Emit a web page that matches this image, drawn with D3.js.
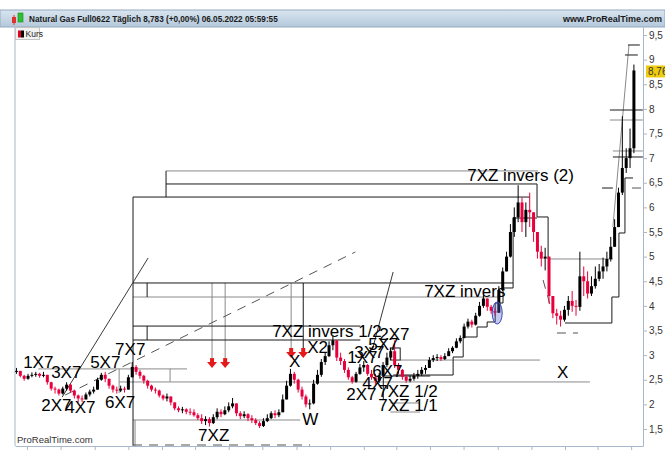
<!doctype html>
<html>
<head>
<meta charset="utf-8">
<script src="https://d3js.org/d3.v7.min.js"></script>
<style>
  body { margin: 0; background: #fff; }
  svg { display: block; font-family: "Liberation Sans", Arial, sans-serif; }
  .axis path, .axis line { stroke: #a7b8ca; }
  .axis text { fill: #333; font-size: 10px; font-family: "Liberation Sans", Arial, sans-serif; }
  .lbl { font-size: 17px; fill: #000; }
</style>
</head>
<body>
<div id="chart"></div>
<script>
// weekly candles, first week ends 12.04.2019
const firstWeek = new Date(2019, 3, 12);
const closes = [
  2.68,2.58,2.52,2.58,2.60,2.62,2.58,2.60,2.45,2.32,
  2.30,2.22,2.32,2.40,2.28,2.18,2.12,2.10,2.20,2.26,
  2.30,2.50,2.60,2.52,2.38,2.30,2.28,2.32,2.30,2.55,
  2.76,2.66,2.58,2.48,2.38,2.30,2.28,2.18,2.12,2.16,
  2.04,1.92,1.88,1.90,1.85,1.84,1.78,1.72,1.66,1.70,
  1.62,1.74,1.85,1.80,1.88,1.96,2.02,1.82,1.76,1.80,
  1.72,1.68,1.62,1.56,1.66,1.72,1.82,1.78,1.84,2.10,
  2.38,2.62,2.50,2.30,2.16,2.00,2.02,2.42,2.60,2.86,
  2.98,3.20,3.30,2.95,2.88,2.70,2.55,2.46,2.62,2.75,
  2.80,2.62,2.55,2.48,2.58,2.80,2.95,3.08,2.80,2.70,
  2.56,2.48,2.52,2.58,2.62,2.70,2.74,2.90,2.94,2.96,
  2.92,2.98,3.08,3.15,3.28,3.35,3.58,3.68,3.62,3.80,
  4.00,4.15,3.98,3.90,3.86,4.32,4.70,5.00,5.50,5.80,
  6.10,5.70,5.95,5.90,5.50,5.10,4.96,5.00,4.20,3.85,
  3.80,3.72,3.92,4.10,4.00,3.98,4.60,4.50,4.25,4.40,
  4.55,4.70,4.80,4.95,5.20,5.60,6.30,6.80,7.00,7.20,
  8.78
];
const highs = [
  2.74,2.68,2.60,2.62,2.65,2.66,2.64,2.66,2.60,2.46,
  2.36,2.32,2.36,2.45,2.42,2.30,2.20,2.18,2.24,2.30,
  2.36,2.54,2.64,2.66,2.52,2.40,2.36,2.38,2.36,2.60,
  2.86,2.80,2.70,2.60,2.50,2.40,2.34,2.30,2.20,2.22,
  2.16,2.02,1.96,1.95,1.92,1.92,1.90,1.82,1.80,1.76,
  1.74,1.80,1.92,1.90,1.96,2.04,2.13,2.00,1.86,1.86,
  1.82,1.78,1.72,1.66,1.72,1.80,1.86,1.88,1.90,2.20,
  2.48,2.72,2.66,2.52,2.36,2.20,2.10,2.50,2.70,2.92,
  3.06,3.28,3.40,3.30,3.05,2.92,2.75,2.58,2.66,2.82,
  2.88,2.82,2.70,2.62,2.64,2.86,3.05,3.15,3.30,2.84,
  2.72,2.60,2.58,2.64,2.70,2.76,2.80,2.96,3.00,3.02,
  3.00,3.04,3.14,3.18,3.34,3.40,3.64,3.74,3.72,3.86,
  4.08,4.22,4.12,4.02,3.96,4.40,4.78,5.10,5.66,6.00,
  6.45,6.20,6.10,6.30,5.80,5.50,5.22,5.18,4.90,4.10,
  3.94,3.90,4.00,4.20,4.30,4.12,5.10,4.80,4.70,4.60,
  4.80,4.85,4.98,5.10,5.40,5.76,6.40,7.85,7.20,7.60,
  8.90
];
const lows = [
  2.62,2.55,2.48,2.50,2.55,2.56,2.54,2.55,2.40,2.28,
  2.22,2.18,2.20,2.28,2.24,2.12,2.04,2.05,2.10,2.16,
  2.22,2.30,2.48,2.45,2.32,2.24,2.22,2.25,2.24,2.30,
  2.58,2.60,2.52,2.42,2.32,2.26,2.22,2.14,2.08,2.06,
  1.98,1.88,1.84,1.82,1.80,1.78,1.75,1.68,1.60,1.58,
  1.55,1.60,1.70,1.74,1.78,1.84,1.92,1.76,1.70,1.72,
  1.66,1.62,1.58,1.52,1.54,1.64,1.70,1.72,1.74,1.84,
  2.10,2.36,2.42,2.24,2.10,1.94,1.90,2.00,2.40,2.56,
  2.80,2.96,3.10,2.88,2.80,2.64,2.50,2.42,2.44,2.60,
  2.66,2.58,2.50,2.40,2.44,2.56,2.76,2.90,2.74,2.62,
  2.50,2.44,2.45,2.48,2.52,2.58,2.62,2.74,2.86,2.88,
  2.88,2.90,2.98,3.04,3.14,3.24,3.34,3.54,3.56,3.60,
  3.78,3.96,3.90,3.84,3.80,3.86,4.30,4.70,4.98,5.40,
  5.70,5.50,5.40,5.60,5.30,4.96,4.80,4.72,4.05,3.75,
  3.62,3.58,3.68,3.80,3.88,3.80,3.90,4.20,4.15,4.20,
  4.35,4.50,4.55,4.70,4.90,5.20,5.60,6.25,6.70,6.80,
  7.10
];

const priceTicks = [1.5,2,2.5,3,3.5,4,4.5,5,5.5,6,6.5,7,7.5,8,8.5,9,9.5];
const lastPrice = 8.76;
const monthNames = ["Jan","Feb","Mär","Apr","Mai","Jun","Jul","Aug","Sep","Okt","Nov","Dez"];

// drawn objects, in [year, price] units
const blackLines = [
  [2020.020, 6.475, 2021.861, 6.475],
  [2019.856, 6.21, 2021.826, 6.21],
  [2020.020, 6.74, 2020.020, 6.21],
  [2019.856, 6.21, 2019.856, 1.16],
  [2019.856, 4.465, 2021.742, 4.465],
  [2019.926, 4.465, 2019.926, 4.18],
  [2019.856, 3.59, 2020.983, 3.59],
  [2019.856, 3.307, 2020.983, 3.307],
  [2019.926, 3.59, 2019.926, 3.307],
  [2020.700, 4.465, 2020.700, 3.145],
  [2021.097, 2.576, 2021.330, 2.576],
  [2021.097, 2.576, 2021.097, 2.089],
  [2022.313, 9.297, 2022.372, 9.297],
  [2022.298, 9.094, 2022.362, 9.094],
  [2022.223, 7.977, 2022.387, 7.977],
  [2022.238, 7.023, 2022.387, 7.023],
  [2022.184, 6.393, 2022.238, 6.393]
];
const grayLines = [
  [2020.020, 6.74, 2021.866, 6.74],
  [2019.856, 4.18, 2021.677, 4.18],
  [2020.248, 4.465, 2020.248, 2.94],
  [2020.313, 4.465, 2020.313, 2.94],
  [2020.640, 4.465, 2020.640, 3.145],
  [2019.385, 2.72, 2020.124, 2.72],
  [2019.787, 2.455, 2022.124, 2.455],
  [2019.787, 2.72, 2019.787, 2.23],
  [2020.040, 2.72, 2020.040, 2.455],
  [2019.856, 1.683, 2020.685, 1.683],
  [2019.866, 1.683, 2019.866, 1.16],
  [2021.181, 2.90, 2021.876, 2.90],
  [2021.916, 4.952, 2022.238, 4.952],
  [2022.223, 7.774, 2022.387, 7.774],
  [2022.238, 7.145, 2022.387, 7.145],
  [2021.132, 2.028, 2021.280, 2.028],
  [2021.132, 1.845, 2021.280, 1.845],
  [2022.238, 5.602, 2022.318, 9.297]
];
const trendLines = [
  [2019.504, 2.150, 2019.931, 4.972],
  [2021.042, 3.104, 2021.146, 4.688]
];
const dashedLines = [
  [2019.519, 2.190, 2020.958, 5.094],
  [2019.856, 1.175, 2020.734, 1.175],
  [2021.891, 4.525, 2021.926, 4.018],
  [2021.960, 3.449, 2022.065, 3.449],
  [2022.333, 6.393, 2022.382, 6.393]
];
const stairs = [
  [[2021.146,2.596],[2021.444,2.596],[2021.444,2.962],[2021.494,2.962],[2021.494,3.368],[2021.563,3.368],
   [2021.563,3.571],[2021.613,3.571],[2021.613,3.673],[2021.653,3.673],[2021.653,4.058],[2021.692,4.058],
   [2021.692,4.363],[2021.742,4.363],[2021.742,5.784],[2021.861,5.784]],
  [[2021.861,6.475],[2021.861,5.805],[2021.916,5.805],[2021.916,4.952]],
  [[2022.000,3.652],[2022.233,3.652],[2022.233,4.180],[2022.268,4.180],[2022.268,5.480],[2022.298,5.480],
   [2022.298,6.597],[2022.338,6.597]]
];
const boxes = [[2021.132, 3.145, 2021.181, 2.90]];
const arrows = [[2020.248, 2.94], [2020.313, 2.94], [2020.640, 3.145], [2020.700, 3.145]];
const marker = [2021.663, 3.855];
const labels = [
  ["1X7", 2019.310, 2.739], ["3X7", 2019.449, 2.536], ["2X7", 2019.400, 1.865],
  ["4X7", 2019.519, 1.825], ["5X7", 2019.643, 2.739], ["6X7", 2019.717, 1.926],
  ["7X7", 2019.767, 3.003], ["7XZ", 2020.179, 1.256], ["W", 2020.695, 1.581],
  ["X", 2020.630, 2.759], ["X2", 2020.720, 3.043], ["7XZ invers 1/2", 2020.546, 3.368],
  ["2X7", 2021.077, 3.307], ["5X7", 2021.022, 3.104], ["3X7", 2020.953, 2.942],
  ["1X7", 2020.918, 2.840], ["6X7", 2021.042, 2.556], ["4X7", 2020.993, 2.312],
  ["2X7", 2020.913, 2.089], ["7XZ 1/2", 2021.072, 2.150], ["7XZ 1/1", 2021.072, 1.865],
  ["X", 2021.960, 2.536], ["7XZ invers", 2021.300, 4.180], ["7XZ invers (2)", 2021.514, 6.536]
];

const width = 665, height = 453;
const plot = {left: 15, right: 643, top: 27, bottom: 446};

const svg = d3.select("#chart").append("svg")
    .attr("width", width).attr("height", height);

// time and price scales
const x = d3.scaleTime()
    .domain([new Date(2020, 0, 1), new Date(2022, 0, 1)])
    .range([162, 565]);
const y = d3.scaleLinear().domain([1.5, 9.5]).range([429, 35]);

function fromYear(v) {
    const a = Math.floor(v);
    const s = new Date(a, 0, 1), e = new Date(a + 1, 0, 1);
    return new Date(+s + (v - a) * (e - s));
}
const X = v => x(fromYear(v));

// header
const defs = svg.append("defs");
const grad = defs.append("linearGradient").attr("id", "hdr").attr("x1", 0).attr("x2", 0).attr("y1", 0).attr("y2", 1);
grad.append("stop").attr("offset", "0%").attr("stop-color", "#d9e5f0");
grad.append("stop").attr("offset", "100%").attr("stop-color", "#b3c8db");
defs.append("clipPath").attr("id", "plotclip").append("rect")
    .attr("x", plot.left).attr("y", plot.top)
    .attr("width", plot.right - plot.left).attr("height", plot.bottom - plot.top);

svg.append("rect").attr("x", 0).attr("y", 10).attr("width", width).attr("height", 17)
    .attr("fill", "url(#hdr)").attr("stroke", "#94aabf").attr("stroke-width", 1);
svg.append("rect").attr("x", 12).attr("y", 17).attr("width", 4).attr("height", 6).attr("fill", "#e03030");
svg.append("line").attr("x1", 14).attr("x2", 14).attr("y1", 15).attr("y2", 25).attr("stroke", "#e03030");
svg.append("rect").attr("x", 18).attr("y", 13).attr("width", 5).attr("height", 9).attr("fill", "#30c030").attr("stroke", "#1a8a1a").attr("stroke-width", 0.6);
svg.append("text").attr("x", 29).attr("y", 22)
    .attr("font-size", 8.2).attr("font-weight", "bold").attr("fill", "#1a1a1a")
    .text("Natural Gas Full0622 Täglich 8,783 (+0,00%) 06.05.2022 05:59:55");
svg.append("text").attr("x", 662).attr("y", 22).attr("text-anchor", "end")
    .attr("font-size", 9).attr("font-weight", "bold").attr("fill", "#1a1a1a")
    .text("www.ProRealTime.com");

// frame
svg.append("line").attr("x1", plot.left).attr("x2", plot.left)
    .attr("y1", plot.top).attr("y2", plot.bottom).attr("stroke", "#a7b8ca");

// Kurs legend
svg.append("rect").attr("x", 15.5).attr("y", 27.5).attr("width", 24).attr("height", 12)
    .attr("fill", "#f2f2f2").attr("stroke", "#c4c4c4");
svg.append("rect").attr("x", 18).attr("y", 30.5).attr("width", 3).attr("height", 7).attr("fill", "#e00020");
svg.append("rect").attr("x", 21).attr("y", 30.5).attr("width", 3).attr("height", 7).attr("fill", "#000");
svg.append("text").attr("x", 25.5).attr("y", 37).attr("font-size", 8.5).attr("fill", "#222").text("Kurs");

// axes
const xa = x.copy().domain([x.invert(plot.left), x.invert(plot.right)]).range([plot.left, plot.right]);
svg.append("g").attr("class", "axis")
    .attr("transform", "translate(0," + plot.bottom + ")")
    .call(d3.axisBottom(xa).ticks(d3.timeMonth.every(2)).tickSize(4).tickSizeOuter(0)
        .tickFormat(d => d.getMonth() === 0 ? d.getFullYear() : monthNames[d.getMonth()]))
    .selectAll("text").attr("dy", "1.05em");

const ya = y.copy().domain([y.invert(plot.bottom), y.invert(plot.top)]).range([plot.bottom, plot.top]);
svg.append("g").attr("class", "axis")
    .attr("transform", "translate(" + plot.right + ",0)")
    .call(d3.axisRight(ya).tickValues(priceTicks).tickSize(4).tickSizeOuter(0).tickPadding(2)
        .tickFormat(d => String(d).replace(".", ",")));

svg.append("rect").attr("x", 646).attr("y", y(lastPrice) - 6).attr("width", 19).attr("height", 12)
    .attr("fill", "#f0cc10");
svg.append("text").attr("x", 648).attr("y", y(lastPrice) + 3.5).attr("font-size", 10).attr("fill", "#333")
    .text(String(lastPrice).replace(".", ","));

const g = svg.append("g").attr("clip-path", "url(#plotclip)");

// annotations under the price
function seg(list, color, width, dash) {
    g.selectAll(null).data(list).enter().append("line")
        .attr("x1", d => X(d[0])).attr("y1", d => y(d[1]))
        .attr("x2", d => X(d[2])).attr("y2", d => y(d[3]))
        .attr("stroke", color).attr("stroke-width", width)
        .attr("stroke-dasharray", dash || null);
}
seg(grayLines, "#8a8a8a", 1);
seg(blackLines, "#1a1a1a", 1);
seg(trendLines, "#3a3a3a", 1);
seg(dashedLines, "#555", 1, "9,7");

const stairLine = d3.line().x(d => X(d[0])).y(d => y(d[1]));
g.selectAll(null).data(stairs).enter().append("path")
    .attr("d", stairLine).attr("fill", "none").attr("stroke", "#1a1a1a");

g.selectAll(null).data(boxes).enter().append("rect")
    .attr("x", d => X(d[0])).attr("y", d => y(d[1]))
    .attr("width", d => X(d[2]) - X(d[0])).attr("height", d => y(d[3]) - y(d[1]))
    .attr("fill", "none").attr("stroke", "#1a1a1a");

// candles
const candles = closes.map((c, i) => {
    const o = i ? closes[i - 1] : c;
    return {
        date: d3.timeDay.offset(firstWeek, 7 * i),
        open: o, close: c,
        high: Math.max(highs[i], o, c), low: Math.min(lows[i], o, c)
    };
});
const col = d => d.close >= d.open ? "#000" : "#e8003c";
g.selectAll(".wick").data(candles).enter().append("line")
    .attr("class", "wick")
    .attr("x1", d => x(d.date)).attr("x2", d => x(d.date))
    .attr("y1", d => y(d.high)).attr("y2", d => y(d.low))
    .attr("stroke", col).attr("stroke-width", 1);
g.selectAll(".body").data(candles).enter().append("rect")
    .attr("class", "body")
    .attr("x", d => x(d.date) - 1.5).attr("width", 3)
    .attr("y", d => y(Math.max(d.open, d.close)))
    .attr("height", d => Math.max(1, Math.abs(y(d.open) - y(d.close))))
    .attr("fill", col);

// marker ellipse
g.append("ellipse")
    .attr("cx", X(marker[0])).attr("cy", y(marker[1]))
    .attr("rx", 5).attr("ry", 11)
    .attr("fill", "rgba(90,100,200,0.35)").attr("stroke", "#3a46c0");

// arrows
const arr = g.selectAll(null).data(arrows).enter().append("g")
    .attr("transform", d => "translate(" + X(d[0]) + "," + y(d[1]) + ")");
arr.append("rect").attr("x", -2).attr("y", 0).attr("width", 4).attr("height", 5).attr("fill", "#e41a1a");
arr.append("path").attr("d", "M-5,4 L5,4 L0,10 Z").attr("fill", "#e41a1a");

// labels
g.selectAll(".lbl").data(labels).enter().append("text")
    .attr("class", "lbl")
    .attr("x", d => X(d[1])).attr("y", d => y(d[2]))
    .text(d => d[0]);

svg.append("text").attr("x", 17).attr("y", 443).attr("font-size", 9.5).attr("fill", "#333")
    .text("ProRealTime.com");
</script>
</body>
</html>
